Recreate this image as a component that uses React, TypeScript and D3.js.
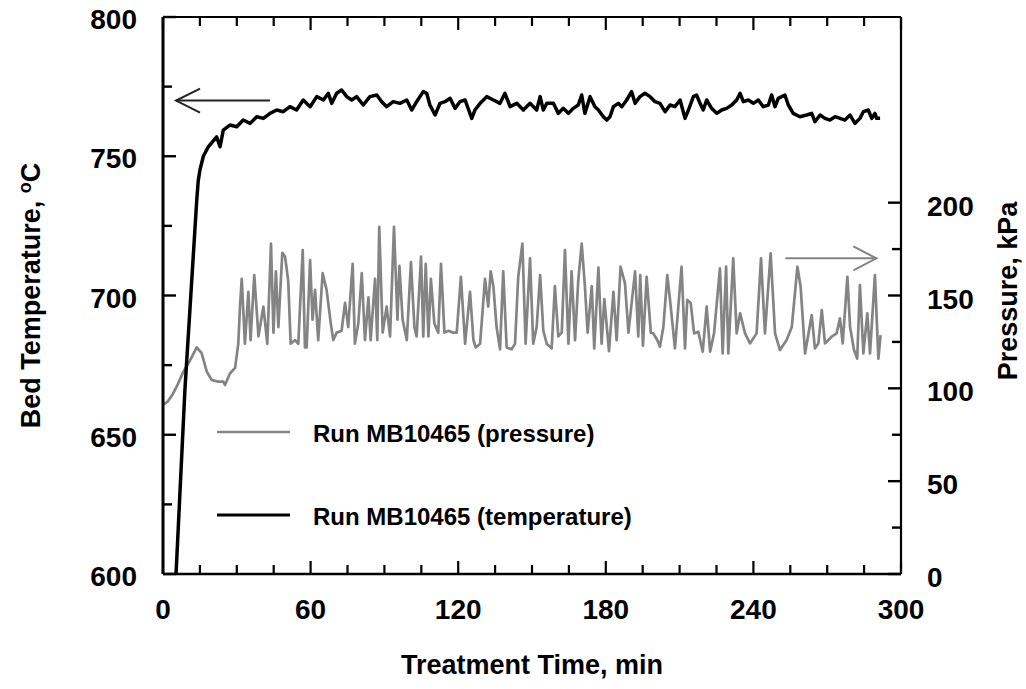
import React from "react";
import * as d3 from "d3";

// ---- data ----
const tempTime = [5.3, 8.9, 13.7, 14.3, 15.0, 16.4, 18.4, 21.8, 23.2, 24.5, 27.2, 30.0, 32.6, 35.4, 38.1, 40.8, 43.5, 46.2, 48.9, 51.6, 54.3, 57.0, 59.8, 62.5, 65.2, 67.2, 68.6, 70.6, 72.6, 74.7, 76.7, 78.7, 81.4, 84.1, 86.9, 88.9, 90.9, 93.6, 96.3, 99.1, 101.1, 103.1, 105.8, 107.2, 108.5, 110.6, 112.6, 114.6, 116.7, 118.7, 120.7, 122.8, 125.5, 126.8, 128.9, 131.6, 134.3, 137.0, 139.0, 141.1, 143.8, 146.5, 149.2, 151.9, 153.3, 154.6, 156.0, 158.7, 160.7, 162.7, 164.8, 166.8, 168.8, 170.2, 171.5, 173.6, 175.6, 177.0, 179.0, 180.4, 181.7, 183.1, 185.1, 186.5, 188.5, 190.5, 191.9, 193.9, 195.9, 198.0, 200.0, 202.0, 204.1, 206.1, 208.1, 210.2, 212.2, 213.6, 215.6, 216.9, 218.3, 219.6, 221.0, 223.0, 225.1, 227.1, 229.1, 231.2, 233.2, 234.6, 235.9, 237.9, 240.0, 242.0, 244.0, 246.1, 247.4, 248.8, 250.1, 252.8, 254.2, 256.2, 258.9, 261.7, 263.7, 265.0, 267.1, 269.1, 271.1, 273.2, 275.2, 277.2, 279.3, 281.3, 283.3, 284.7, 286.7, 288.1, 289.4, 290.1, 291.5];
const tempC = [600, 666, 734, 741, 745, 750, 753.4, 757, 753.4, 759.4, 761.2, 760.6, 763, 761.8, 764.2, 763.6, 765.4, 766.6, 766, 767.8, 766.6, 770.2, 767.8, 771.4, 770.2, 772.6, 769, 772.6, 773.8, 771.4, 770.2, 771.4, 768.4, 771.4, 772, 769.6, 767.8, 769.6, 769, 770.2, 766.6, 769.6, 773.2, 772.6, 768.4, 764.8, 769, 769.6, 770.8, 767.2, 769.6, 770.2, 763.6, 766.6, 769, 771.4, 770.2, 769, 772.6, 767.8, 769, 766.6, 769, 766.6, 771.4, 766.6, 769.0, 769.0, 765.4, 767.2, 765.4, 767.2, 768.4, 772.0, 765.4, 771.4, 767.8, 766.6, 764.2, 763.0, 764.2, 767.8, 769.0, 767.8, 770.2, 773.2, 769.0, 771.4, 772.6, 771.4, 769.6, 769.0, 766.0, 768.4, 767.8, 770.2, 763.6, 766.6, 771.4, 772.0, 769.0, 766.6, 770.2, 767.2, 765.4, 766.6, 767.2, 768.4, 770.2, 772.6, 769.6, 770.2, 769.0, 770.2, 767.8, 768.4, 772.0, 767.8, 770.8, 772.0, 768.4, 765.4, 764.2, 764.8, 765.4, 762.4, 764.8, 763.6, 763.0, 764.2, 763.6, 763.0, 764.8, 761.8, 763.6, 766.0, 766.6, 763.6, 765.4, 763.6, 763.6];

const pressTime = [0, 2, 4, 5.6, 8.3, 11.0, 13.7, 15.7, 17.8, 19.8, 22.5, 24.5, 25.2, 27.2, 29.3, 30.6, 31.3, 32.0, 33.3, 34.7, 35.6, 37.1, 38.8, 40.8, 42.4, 43.9, 44.9, 45.9, 46.9, 48.5, 49.6, 50.9, 51.9, 53.7, 55.0, 56.8, 57.7, 58.4, 59.8, 60.8, 61.8, 63.1, 64.9, 66.5, 68.2, 69.2, 70.6, 72.6, 74.0, 75.3, 77.1, 78.0, 79.4, 80.8, 82.1, 83.5, 84.4, 86.2, 87.1, 87.9, 89.3, 90.9, 92.3, 93.9, 95.3, 96.1, 97.4, 99.1, 100.8, 102.2, 103.1, 104.9, 105.8, 106.8, 107.9, 108.9, 110.3, 111.9, 113.0, 114.4, 116.0, 118.0, 119.4, 121.1, 122.8, 124.8, 126.2, 127.1, 128.9, 130.9, 132.2, 133.2, 134.3, 135.6, 137.0, 138.3, 139.7, 141.7, 143.1, 144.4, 146.1, 147.4, 149.2, 150.5, 151.9, 153.3, 154.6, 156.0, 158.0, 159.3, 160.7, 162.1, 163.4, 164.8, 166.1, 167.5, 168.8, 170.2, 171.5, 172.6, 174.3, 175.3, 177.0, 178.3, 179.4, 181.3, 183.1, 184.4, 186.0, 187.8, 189.2, 191.9, 193.2, 194.0, 195.1, 196.6, 198.3, 199.3, 200.9, 202.0, 203.4, 205.0, 206.4, 208.1, 210.8, 212.2, 213.1, 214.5, 215.9, 217.6, 219.4, 221.0, 222.4, 224.0, 226.4, 227.5, 228.9, 229.8, 231.8, 233.2, 234.6, 236.6, 238.6, 241.3, 243.1, 244.7, 247.0, 248.8, 250.8, 253.5, 255.6, 257.9, 259.2, 261.0, 263.7, 265.0, 266.4, 267.8, 269.1, 271.8, 273.8, 275.2, 276.3, 278.2, 279.3, 280.9, 282.2, 283.3, 284.7, 286.3, 287.4, 289.4, 290.8, 291.7];
const pressKPa = [91, 93, 97, 101, 109, 115, 122, 119, 109, 104.5, 103.6, 103.6, 101.8, 108, 111, 124, 144, 159, 124, 152, 126, 161, 128, 144, 124, 178, 130, 163, 133, 173, 171, 158, 124, 126, 124, 174.5, 122, 122, 169, 137, 153, 126, 162, 153, 135, 126, 130, 131, 146, 133, 167, 124, 135, 162, 126, 149, 126, 159, 126, 187, 130, 144, 128, 187, 137, 166, 137, 126, 168, 133, 128, 171, 128, 167, 128, 159, 135, 130, 167, 130, 131, 130, 130, 160, 124, 152, 126, 122, 124, 159, 144, 163, 155, 133, 121, 163, 122, 121, 124, 160, 178, 124, 170, 124, 133, 161, 131, 124, 121.5, 155, 128, 130, 174.5, 124, 163, 126, 158, 178, 155, 130, 155, 121.5, 165, 124, 148, 120, 152, 126, 165.5, 156.5, 130, 163, 128, 161, 123, 160, 130, 129.6, 126, 122.4, 133, 161, 144, 121.5, 165.5, 121.5, 147.6, 146, 129.6, 130.5, 119.7, 144, 119.7, 129.6, 164.6, 118.8, 165.5, 118.8, 170, 129.6, 140.4, 129.6, 124.2, 129.6, 170, 129.6, 172.7, 129.6, 120.6, 126, 133, 165.5, 154.7, 118.8, 139.5, 121.5, 124.2, 142.2, 124.2, 127.8, 129.6, 137.7, 124.2, 160, 133, 120.6, 116, 155.6, 118.8, 140.4, 118.8, 161, 116, 128.7];

const xTickValues = d3.range(0, 301, 15);
const xTickLabels = [0, 60, 120, 180, 240, 300];
const tTickValues = d3.range(600, 801, 25);
const tTickLabels = [600, 650, 700, 750, 800];
const pTickValues = d3.range(0, 201, 25);
const pTickLabels = [0, 50, 100, 150, 200];

const legendLabels = ["Run MB10465 (pressure)", "Run MB10465 (temperature)"];

const FONT = "'Liberation Sans', Arial, Helvetica, sans-serif";
const PRESS_COLOR = "#848484";

export default function App() {
  const W = 1026, H = 689;
  const L = 163, R = 901, T = 17, B = 574;
  const x = d3.scaleLinear().domain([0, 300]).range([L, R]);
  const yT = d3.scaleLinear().domain([600, 800]).range([B, T]);
  const yP = d3.scaleLinear().domain([0, 300]).range([B, T]);

  const tempLine = d3.line<number>().x((_, i) => x(tempTime[i])).y((d) => yT(d));
  const pressLine = d3.line<number>().x((_, i) => x(pressTime[i])).y((d) => yP(d));

  const major = 13, minor = 9;

  // arrows in data space
  const la = { y: yT(770), x1: x(5.3), x2: x(43.5) };
  const ra = { y: yP(170), x1: x(253), x2: x(290) };

  return (
    <svg width={W} height={H} style={{ position: "absolute", left: 0, top: 0, background: "#fff" }} fontFamily={FONT}>
      <defs>
        <clipPath id="plot">
          <rect x={L} y={T} width={R - L} height={B - T} />
        </clipPath>
      </defs>
      <rect width={W} height={H} fill="#fff" />

      {/* data */}
      <g clipPath="url(#plot)">
        <path d={pressLine(pressKPa) || ""} fill="none" stroke={PRESS_COLOR} strokeWidth={2.7} strokeLinejoin="round" />
        <path d={tempLine(tempC) || ""} fill="none" stroke="#000" strokeWidth={3.5} strokeLinejoin="round" />
      </g>

      {/* frame */}
      <line x1={L} x2={L} y1={T} y2={B} stroke="#000" strokeWidth={3} />
      <line x1={L} x2={R} y1={B} y2={B} stroke="#000" strokeWidth={2.5} />
      <line x1={L} x2={R} y1={T} y2={T} stroke="#000" strokeWidth={2.2} />
      <line x1={R} x2={R} y1={T} y2={B} stroke="#000" strokeWidth={2.2} />

      {/* x ticks bottom and top */}
      {xTickValues.map((v) => {
        const len = v % 60 === 0 ? major : minor;
        return (
          <g key={"xt" + v}>
            <line x1={x(v)} x2={x(v)} y1={B} y2={B - len} stroke="#000" strokeWidth={2.2} />
            <line x1={x(v)} x2={x(v)} y1={T} y2={T + len} stroke="#000" strokeWidth={2.2} />
          </g>
        );
      })}
      {xTickLabels.map((v) => (
        <text key={"xl" + v} x={x(v)} y={619} textAnchor="middle" fontSize={28} fontWeight="bold">{v}</text>
      ))}

      {/* left ticks */}
      {tTickValues.map((v) => (
        <line key={"lt" + v} x1={L} x2={L + (v % 50 === 0 ? major : minor)} y1={yT(v)} y2={yT(v)} stroke="#000" strokeWidth={2.4} />
      ))}
      {tTickLabels.map((v) => (
        <text key={"ll" + v} x={137} y={yT(v) + 12} textAnchor="end" fontSize={28} fontWeight="bold">{v}</text>
      ))}

      {/* right ticks */}
      {pTickValues.map((v) => (
        <line key={"rt" + v} x1={R} x2={R - (v % 50 === 0 ? major : minor)} y1={yP(v)} y2={yP(v)} stroke="#000" strokeWidth={2.4} />
      ))}
      {pTickLabels.map((v) => (
        <text key={"rl" + v} x={927} y={yP(v) + 13} textAnchor="start" fontSize={28} fontWeight="bold">{v}</text>
      ))}

      {/* axis titles */}
      <text x={532} y={674} textAnchor="middle" fontSize={27} fontWeight="bold">Treatment Time, min</text>
      <text transform={`translate(40,${(T + B) / 2}) rotate(-90)`} textAnchor="middle" fontSize={27} fontWeight="bold">
        Bed Temperature, <tspan fontSize={18} dy={-9}>o</tspan><tspan dy={9}>C</tspan>
      </text>
      <text transform={`translate(1017,291) rotate(-90)`} textAnchor="middle" fontSize={27} fontWeight="bold">Pressure, kPa</text>

      {/* arrows */}
      <g fill="none" stroke="#222" strokeWidth={2}>
        <line x1={la.x1} x2={la.x2} y1={la.y} y2={la.y} />
        <polyline points={`${la.x1 + 24},${la.y - 12} ${la.x1},${la.y} ${la.x1 + 24},${la.y + 12}`} />
      </g>
      <g fill="none" stroke={PRESS_COLOR} strokeWidth={2}>
        <line x1={ra.x1} x2={ra.x2} y1={ra.y} y2={ra.y} />
        <polyline points={`${ra.x2 - 23},${ra.y - 12} ${ra.x2},${ra.y} ${ra.x2 - 23},${ra.y + 12}`} />
      </g>

      {/* legend */}
      <line x1={217} x2={290} y1={432} y2={432} stroke={PRESS_COLOR} strokeWidth={2.6} />
      <text x={313} y={442} fontSize={24} fontWeight="bold">{legendLabels[0]}</text>
      <line x1={217} x2={290} y1={515} y2={515} stroke="#000" strokeWidth={3.2} />
      <text x={313} y={525} fontSize={24} fontWeight="bold">{legendLabels[1]}</text>
    </svg>
  );
}
